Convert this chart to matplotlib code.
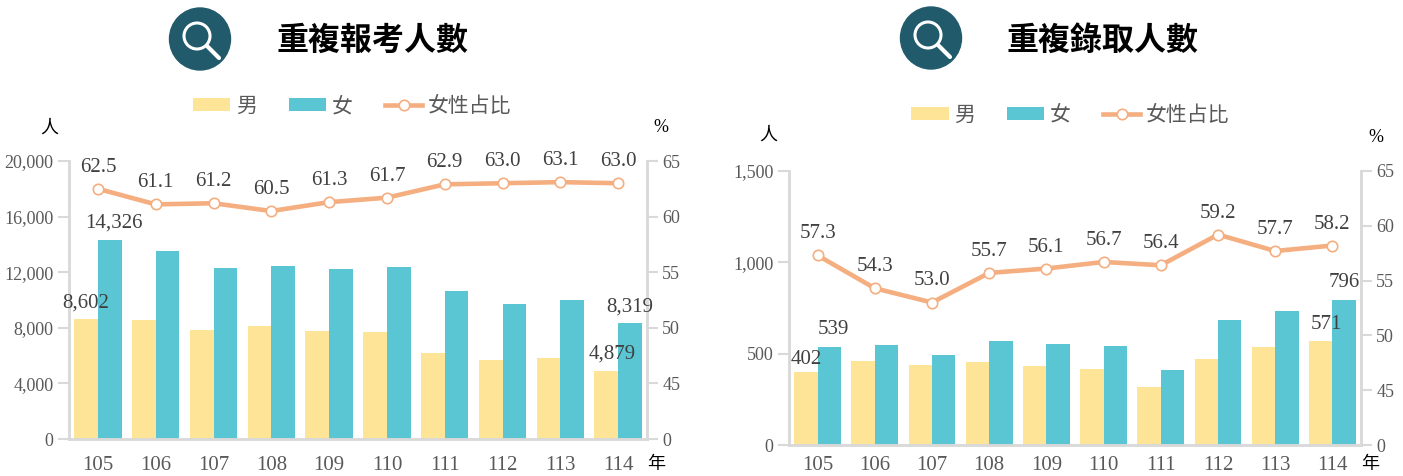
import matplotlib
matplotlib.use('Agg')
import matplotlib.pyplot as plt
from matplotlib.patches import Ellipse, Circle

plt.rcParams['font.family'] = ['Liberation Serif', 'Noto Sans CJK TC']

W, H = 1403, 476

years = ['105', '106', '107', '108', '109', '110', '111', '112', '113', '114']

# left chart
apply_male = [8602, 8560, 7830, 8130, 7750, 7680, 6220, 5680, 5820, 4879]
apply_female = [14326, 13500, 12330, 12450, 12260, 12360, 10640, 9740, 10030, 8319]
apply_ratio = [62.5, 61.1, 61.2, 60.5, 61.3, 61.7, 62.9, 63.0, 63.1, 63.0]
apply_ticks = [0, 4000, 8000, 12000, 16000, 20000]

# right chart
admit_male = [402, 458, 437, 453, 435, 415, 317, 470, 535, 571]
admit_female = [539, 545, 492, 570, 555, 543, 413, 683, 735, 796]
admit_ratio = [57.3, 54.3, 53.0, 55.7, 56.1, 56.7, 56.4, 59.2, 57.7, 58.2]
admit_ticks = [0, 500, 1000, 1500]

# the % axis is broken: the lowest tick reads 0 but sits at 40
ratio_ticks = [40, 45, 50, 55, 60, 65]
ratio_labels = ['0', '45', '50', '55', '60', '65']

YELLOW = '#FEE497'
TEAL = '#5AC6D3'
ORANGE = '#F4AE80'
GREY = '#595959'
DARK = '#404040'
AXIS = '#D9D9D9'


def px_axes(x0, x1, y_top, y_bot):
    return fig.add_axes([x0 / W, 1 - y_bot / H, (x1 - x0) / W, (y_bot - y_top) / H])


def chart(box, male, female, ratio, ticks, xpad, legend_at, male_dy):
    ax = px_axes(*box)
    x = list(range(len(years)))
    bw = 0.41
    b1 = ax.bar([i - bw / 2 for i in x], male, bw, color=YELLOW, label='男', zorder=2)
    b2 = ax.bar([i + bw / 2 for i in x], female, bw, color=TEAL, label='女', zorder=2)
    ax.set_xlim(-0.5, 9.5)
    ax.set_ylim(0, ticks[-1])
    ax.set_yticks(ticks)
    ax.set_yticklabels([f'{t:,}' for t in ticks])
    ax.set_xticks(x)
    ax.set_xticklabels(years)
    ax.tick_params(axis='x', length=0, pad=xpad, labelsize=15, labelcolor=GREY)
    ax.tick_params(axis='y', length=8, width=1.5, color=AXIS, pad=3, labelsize=13, labelcolor=GREY)

    ax2 = ax.twinx()
    line, = ax2.plot(x, ratio, color=ORANGE, lw=3.3, marker='o', ms=7.5, mfc='white',
                     mec=ORANGE, mew=1.2, label='女性占比', zorder=3)
    ax2.set_ylim(40, 65)
    ax2.set_yticks(ratio_ticks)
    ax2.set_yticklabels(ratio_labels)
    ax2.tick_params(axis='y', length=8, width=1.5, color=AXIS, pad=3, labelsize=13, labelcolor=GREY)

    for a in (ax, ax2):
        a.patch.set_visible(False)
        a.spines['top'].set_visible(False)
        for s in ('left', 'right', 'bottom'):
            a.spines[s].set_color(AXIS)
            a.spines[s].set_linewidth(1.8)

    for i, v in enumerate(ratio):
        ax2.annotate(f'{v:.1f}', (i, v), xytext=(0, 15.5), textcoords='offset points',
                     ha='center', va='center', fontsize=15, color=DARK)

    # only first and last year carry bar labels
    for i, vals, side, dx, dy in ((0, male, -1, 0, male_dy), (0, female, 1, 3, 12),
                                  (9, male, -1, 4, 12), (9, female, 1, 0, 12)):
        ax2.annotate(f'{vals[i]:,}', (i + side * bw / 2, vals[i] / ticks[-1] * 25 + 40),
                     xytext=(dx, dy), textcoords='offset points',
                     ha='center', va='center', fontsize=15, color=DARK)

    fig.legend(handles=[b1, b2, line], ncol=3, loc='center left',
               bbox_to_anchor=(legend_at[0] / W, 1 - legend_at[1] / H), frameon=False,
               fontsize=15, labelcolor=GREY, handlelength=1.8, handleheight=0.6,
               handletextpad=0.25, columnspacing=1.55, borderpad=0, borderaxespad=0)
    return ax


def icon(cx, cy):
    over.add_patch(Ellipse((cx, cy), 61, 62, color='#215A6B'))
    over.add_patch(Circle((cx - 3, cy - 3), 13, fill=False, ec='white', lw=2.2))
    over.plot([cx + 7, cx + 19], [cy + 7, cy + 19], color='white', lw=3, solid_capstyle='round')


fig = plt.figure(figsize=(W / 100, H / 100), dpi=100)

chart((69, 647, 161, 439), apply_male, apply_female, apply_ratio, apply_ticks, 12, (193, 107), 12)
chart((789, 1361, 171, 445), admit_male, admit_female, admit_ratio, admit_ticks, 8, (911, 116), 9)

# overlay in pixel coordinates for the title block and unit marks
over = fig.add_axes([0, 0, 1, 1])
over.set_xlim(0, W)
over.set_ylim(H, 0)
over.axis('off')
over.patch.set_visible(False)

icon(200, 39)
icon(931, 38)
over.text(372, 42, '重複報考人數', ha='center', va='center', fontsize=23, fontweight='bold', color='black')
over.text(1102, 41, '重複錄取人數', ha='center', va='center', fontsize=23, fontweight='bold', color='black')

for px, py, s in ((49, 128, '人'), (661, 128, '%'), (656, 464, '年'),
                  (768, 135, '人'), (1376, 138, '%'), (1370, 465, '年')):
    over.text(px, py, s, ha='center', va='center', fontsize=13, color='black')

fig.savefig('out.png', dpi=100)
